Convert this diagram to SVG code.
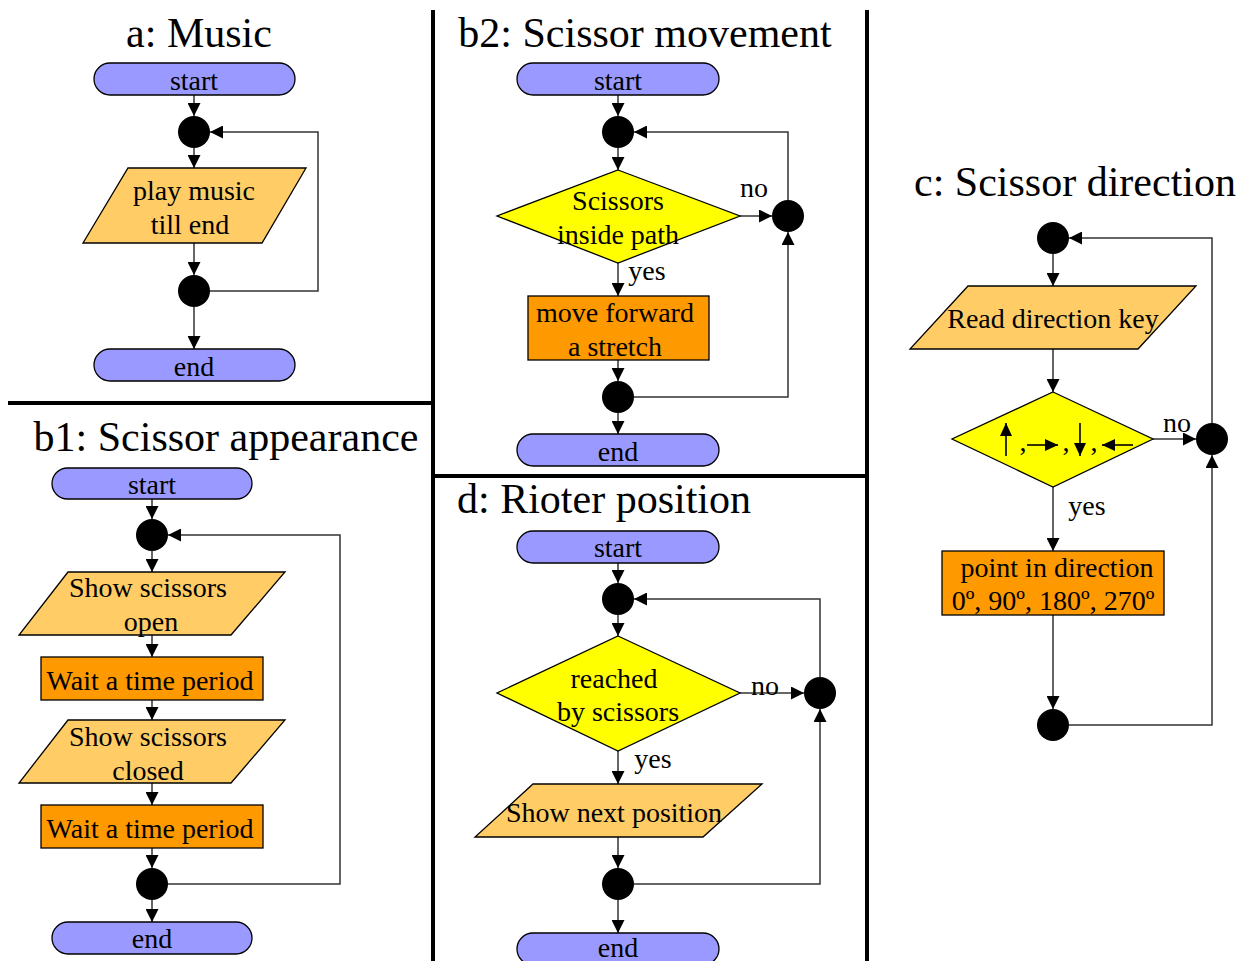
<svg xmlns="http://www.w3.org/2000/svg" width="1253" height="961" viewBox="0 0 1253 961">
<style>
text{font-family:"Liberation Serif","Times New Roman",serif;fill:#000}
.t{font-size:42px}
.l{font-size:28px;text-anchor:middle}
.s{fill:#9999FF;stroke:#000;stroke-width:1.3}
.p{fill:#FFCC66;stroke:#000;stroke-width:1.3}
.r{fill:#FF9900;stroke:#000;stroke-width:1.3}
.d{fill:#FFFF00;stroke:#000;stroke-width:1.3}
.j{fill:#000}
.c{fill:none;stroke:#333;stroke-width:1.5}
.k{fill:none;stroke:#000;stroke-width:1.6}
.div{stroke:#000;stroke-width:4}
</style>
<defs>
<marker id="ah" markerUnits="userSpaceOnUse" markerWidth="13" markerHeight="13" refX="13" refY="6.5" orient="auto"><path d="M0,0 L13,6.5 L0,13 z" fill="#000"/></marker>
<marker id="sa" markerUnits="userSpaceOnUse" markerWidth="13" markerHeight="12" refX="13" refY="6" orient="auto"><path d="M0,0 L13,6 L0,12 z" fill="#000"/></marker>
</defs>
<rect width="1253" height="961" fill="#fff"/>
<g id="dividers">
<line class="div" x1="433" y1="10" x2="433" y2="961"/>
<line class="div" x1="867" y1="10" x2="867" y2="961"/>
<line class="div" x1="8" y1="403" x2="433" y2="403"/>
<line class="div" x1="433" y1="476" x2="867" y2="476"/>
</g>
<g id="titles">
<text class="t" x="199" y="47" text-anchor="middle">a: Music</text>
<text class="t" x="645" y="47" text-anchor="middle">b2: Scissor movement</text>
<text class="t" x="1075" y="196" text-anchor="middle">c: Scissor direction</text>
<text class="t" x="226" y="451" text-anchor="middle">b1: Scissor appearance</text>
<text class="t" x="604" y="513" text-anchor="middle">d: Rioter position</text>
</g>
<g id="connectors">
<line class="c" x1="194" y1="95" x2="194" y2="116" marker-end="url(#ah)"/>
<line class="c" x1="194" y1="148" x2="194" y2="168" marker-end="url(#ah)"/>
<line class="c" x1="194" y1="243" x2="194" y2="275" marker-end="url(#ah)"/>
<line class="c" x1="194" y1="307" x2="194" y2="349" marker-end="url(#ah)"/>
<polyline class="c" points="210,291 318,291 318,132 210,132" marker-end="url(#ah)"/>
<line class="c" x1="618" y1="95" x2="618" y2="116" marker-end="url(#ah)"/>
<line class="c" x1="618" y1="148" x2="618" y2="170" marker-end="url(#ah)"/>
<line class="c" x1="740" y1="216" x2="772" y2="216" marker-end="url(#ah)"/>
<line class="c" x1="618" y1="263" x2="618" y2="296" marker-end="url(#ah)"/>
<line class="c" x1="618" y1="360" x2="618" y2="381" marker-end="url(#ah)"/>
<line class="c" x1="618" y1="413" x2="618" y2="434" marker-end="url(#ah)"/>
<polyline class="c" points="634,397 788,397 788,232" marker-end="url(#ah)"/>
<polyline class="c" points="788,200 788,132 634,132" marker-end="url(#ah)"/>
<line class="c" x1="1053" y1="254" x2="1053" y2="286" marker-end="url(#ah)"/>
<line class="c" x1="1053" y1="349" x2="1053" y2="392" marker-end="url(#ah)"/>
<line class="c" x1="1153" y1="439" x2="1196" y2="439" marker-end="url(#ah)"/>
<line class="c" x1="1053" y1="487" x2="1053" y2="551" marker-end="url(#ah)"/>
<line class="c" x1="1053" y1="615" x2="1053" y2="709" marker-end="url(#ah)"/>
<polyline class="c" points="1069,725 1212,725 1212,455" marker-end="url(#ah)"/>
<polyline class="c" points="1212,423 1212,238 1069,238" marker-end="url(#ah)"/>
<line class="c" x1="152" y1="499" x2="152" y2="519" marker-end="url(#ah)"/>
<line class="c" x1="152" y1="551" x2="152" y2="572" marker-end="url(#ah)"/>
<line class="c" x1="152" y1="635" x2="152" y2="657" marker-end="url(#ah)"/>
<line class="c" x1="152" y1="700" x2="152" y2="720" marker-end="url(#ah)"/>
<line class="c" x1="152" y1="783" x2="152" y2="805" marker-end="url(#ah)"/>
<line class="c" x1="152" y1="848" x2="152" y2="868" marker-end="url(#ah)"/>
<line class="c" x1="152" y1="900" x2="152" y2="922" marker-end="url(#ah)"/>
<polyline class="c" points="168,884 340,884 340,535 168,535" marker-end="url(#ah)"/>
<line class="c" x1="618" y1="563" x2="618" y2="583" marker-end="url(#ah)"/>
<line class="c" x1="618" y1="615" x2="618" y2="636" marker-end="url(#ah)"/>
<line class="c" x1="740" y1="693" x2="804" y2="693" marker-end="url(#ah)"/>
<line class="c" x1="618" y1="751" x2="618" y2="784" marker-end="url(#ah)"/>
<line class="c" x1="618" y1="837" x2="618" y2="868" marker-end="url(#ah)"/>
<line class="c" x1="618" y1="900" x2="618" y2="933" marker-end="url(#ah)"/>
<polyline class="c" points="634,884 820,884 820,709" marker-end="url(#ah)"/>
<polyline class="c" points="820,677 820,599 634,599" marker-end="url(#ah)"/>
</g>
<g id="labels">
<text class="l" x="754" y="197">no</text>
<text class="l" x="647" y="280">yes</text>
<text class="l" x="1177" y="432">no</text>
<text class="l" x="1087" y="515">yes</text>
<text class="l" x="765" y="695">no</text>
<text class="l" x="653" y="768">yes</text>
</g>
<g id="a-start"><rect class="s" x="94" y="63" width="201" height="32" rx="16"/><text class="l" x="194" y="90">start</text></g>
<g id="a-j1"><circle class="j" cx="194" cy="132" r="16"/></g>
<g id="a-play"><polygon class="p" points="128,168 306,168 262,243 83,243"/><text class="l" x="194" y="200">play music</text><text class="l" x="190" y="234">till end</text></g>
<g id="a-j2"><circle class="j" cx="194" cy="291" r="16"/></g>
<g id="a-end"><rect class="s" x="94" y="349" width="201" height="32" rx="16"/><text class="l" x="194" y="376">end</text></g>

<g id="b2-start"><rect class="s" x="517" y="63" width="202" height="32" rx="16"/><text class="l" x="618" y="90">start</text></g>
<g id="b2-j1"><circle class="j" cx="618" cy="132" r="16"/></g>
<g id="b2-dec"><polygon class="d" points="618,170 740,216 618,263 497,216"/><text class="l" x="618" y="210">Scissors</text><text class="l" x="618" y="244">inside path</text></g>
<g id="b2-jr"><circle class="j" cx="788" cy="216" r="16"/></g>
<g id="b2-move"><rect class="r" x="528" y="296" width="181" height="64"/><text class="l" x="615" y="322">move forward</text><text class="l" x="615" y="356">a stretch</text></g>
<g id="b2-j2"><circle class="j" cx="618" cy="397" r="16"/></g>
<g id="b2-end"><rect class="s" x="517" y="434" width="202" height="32" rx="16"/><text class="l" x="618" y="461">end</text></g>

<g id="c-j1"><circle class="j" cx="1053" cy="238" r="16"/></g>
<g id="c-read"><polygon class="p" points="968,286 1196,286 1138,349 910,349"/><text class="l" x="1053" y="328">Read direction key</text></g>
<g id="c-dec"><polygon class="d" points="1053,392 1153,439 1053,487 952,439"/>
<line class="k" x1="1006" y1="456" x2="1006" y2="423" marker-end="url(#sa)"/>
<line class="k" x1="1027" y1="445" x2="1058" y2="445" marker-end="url(#sa)"/>
<line class="k" x1="1080" y1="423" x2="1080" y2="456" marker-end="url(#sa)"/>
<line class="k" x1="1133" y1="445" x2="1102" y2="445" marker-end="url(#sa)"/>
<text class="l" x="1023" y="451">,</text><text class="l" x="1066" y="451">,</text><text class="l" x="1094" y="451">,</text>
</g>
<g id="c-jr"><circle class="j" cx="1212" cy="439" r="16"/></g>
<g id="c-point"><rect class="r" x="942" y="551" width="222" height="64"/><text class="l" x="1057" y="577">point in direction</text><text class="l" x="1053" y="610">0º, 90º, 180º, 270º</text></g>
<g id="c-j2"><circle class="j" cx="1053" cy="725" r="16"/></g>

<g id="b1-start"><rect class="s" x="52" y="468" width="200" height="31" rx="15.5"/><text class="l" x="152" y="494">start</text></g>
<g id="b1-j1"><circle class="j" cx="152" cy="535" r="16"/></g>
<g id="b1-open"><polygon class="p" points="68,572 285,572 231,635 19,635"/><text class="l" x="148" y="597">Show scissors</text><text class="l" x="151" y="631">open</text></g>
<g id="b1-wait1"><rect class="r" x="41" y="657" width="222" height="43"/><text class="l" x="150" y="690">Wait a time period</text></g>
<g id="b1-closed"><polygon class="p" points="68,720 285,720 231,783 19,783"/><text class="l" x="148" y="746">Show scissors</text><text class="l" x="148" y="780">closed</text></g>
<g id="b1-wait2"><rect class="r" x="41" y="805" width="222" height="43"/><text class="l" x="150" y="838">Wait a time period</text></g>
<g id="b1-j2"><circle class="j" cx="152" cy="884" r="16"/></g>
<g id="b1-end"><rect class="s" x="52" y="922" width="200" height="32" rx="16"/><text class="l" x="152" y="948">end</text></g>

<g id="d-start"><rect class="s" x="517" y="531" width="202" height="32" rx="16"/><text class="l" x="618" y="557">start</text></g>
<g id="d-j1"><circle class="j" cx="618" cy="599" r="16"/></g>
<g id="d-dec"><polygon class="d" points="618,636 740,693 618,751 497,693"/><text class="l" x="614" y="688">reached</text><text class="l" x="618" y="721">by scissors</text></g>
<g id="d-jr"><circle class="j" cx="820" cy="693" r="16"/></g>
<g id="d-show"><polygon class="p" points="533,784 762,784 703,837 475,837"/><text class="l" x="614" y="822">Show next position</text></g>
<g id="d-j2"><circle class="j" cx="618" cy="884" r="16"/></g>
<g id="d-end"><rect class="s" x="517" y="933" width="202" height="32" rx="16"/><text class="l" x="618" y="957">end</text></g>
</svg>
